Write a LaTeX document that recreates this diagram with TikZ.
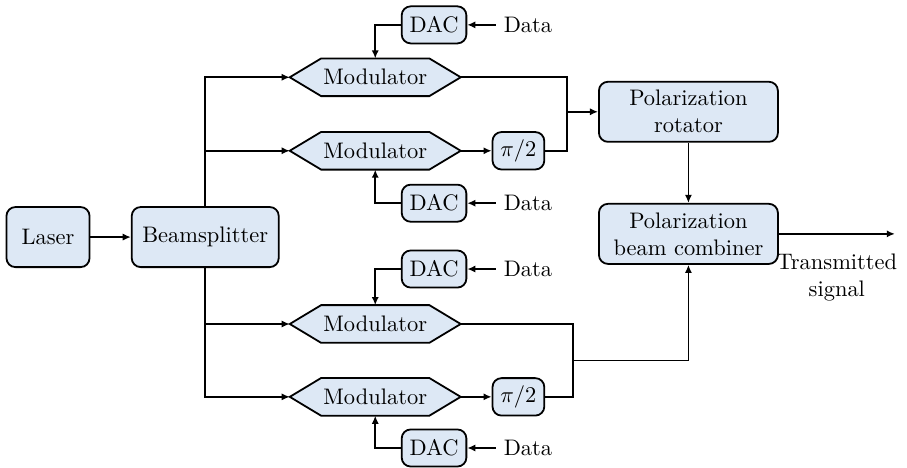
\documentclass[tikz,border=0pt]{standalone}
\usetikzlibrary{shapes.symbols,arrows.meta}
\definecolor{blockfill}{RGB}{221,232,245}
\tikzset{
  block/.style={draw, thick, fill=blockfill, rounded corners=4pt,
    minimum height=0.94cm, align=center},
  smallblock/.style={draw, thick, fill=blockfill, rounded corners=4pt,
    minimum height=0.58cm, inner xsep=3.5pt},
  modbox/.style={draw, thick, fill=blockfill, signal, signal to=east and west,
    signal pointer angle=62, minimum height=0.59cm, inner xsep=1pt,
    outer sep=0pt},
  link/.style={thick, -{Latex[length=3.6pt,width=3.2pt]}},
}
\begin{document}
\begin{tikzpicture}
      \useasboundingbox (-0.751,-3.599) rectangle (13.44,3.709);
      \node[block, minimum width=1.3cm] (laser) at (0,0) {Laser};
      \node[block, minimum width=2.3cm] (bs) at (2.46,0) {Beamsplitter};
      \node[modbox] (mod1) at (5.12,2.5) {Modulator};
      \node[modbox] (mod2) at (5.12,1.35) {Modulator};
      \node[modbox] (mod3) at (5.12,-1.36) {Modulator};
      \node[modbox] (mod4) at (5.12,-2.5) {Modulator};
      \node[smallblock] (dac1) at (6.04,3.32) {DAC};
      \node[smallblock] (dac2) at (6.04,0.53) {DAC};
      \node[smallblock] (dac3) at (6.04,-0.5) {DAC};
      \node[smallblock] (dac4) at (6.04,-3.3) {DAC};
      \node (data1) at (7.51,3.32) {Data};
      \node (data2) at (7.51,0.53) {Data};
      \node (data3) at (7.51,-0.5) {Data};
      \node (data4) at (7.51,-3.3) {Data};
      \node[smallblock] (pi1) at (7.36,1.35) {$\pi/2$};
      \node[smallblock] (pi2) at (7.36,-2.5) {$\pi/2$};
      \node[block, minimum width=2.8cm] (rot) at (10.02,1.96) {Polarization\\rotator};
      \node[block, minimum width=2.8cm] (comb) at (10.02,0.05) {Polarization\\beam combiner};
      \coordinate (jt) at (8.12,1.96);
      \coordinate (jb) at (8.22,-1.93);
      \coordinate (out) at (13.25,0.05);
      \begin{scope}[link]
        \draw (laser) -- (bs);
        \draw (bs.north) |- (mod1.west);
        \draw (bs.north) |- (mod2.west);
        \draw (bs.south) |- (mod3.west);
        \draw (bs.south) |- (mod4.west);
        \draw (data1) -- (dac1);
        \draw (data2) -- (dac2);
        \draw (data3) -- (dac3);
        \draw (data4) -- (dac4);
        \draw (dac1.west) -| (mod1.north);
        \draw (dac2.west) -| (mod2.south);
        \draw (dac3.west) -| (mod3.north);
        \draw (dac4.west) -| (mod4.south);
        \draw (mod2.east) -- (pi1.west);
        \draw (mod4.east) -- (pi2.west);
        \draw[-] (mod1.east) -| (jt) |- (pi1.east);
        \draw[-] (mod3.east) -| (jb) |- (pi2.east);
        \draw (jt) -- (rot.west);
        \draw (jb) -| (comb.south);
        \draw (rot) -- (comb);
        \draw (comb.east) -- (out)
          node[midway, below=5pt, align=center] {Transmitted\\signal};
      \end{scope}
    \end{tikzpicture}
\end{document}
